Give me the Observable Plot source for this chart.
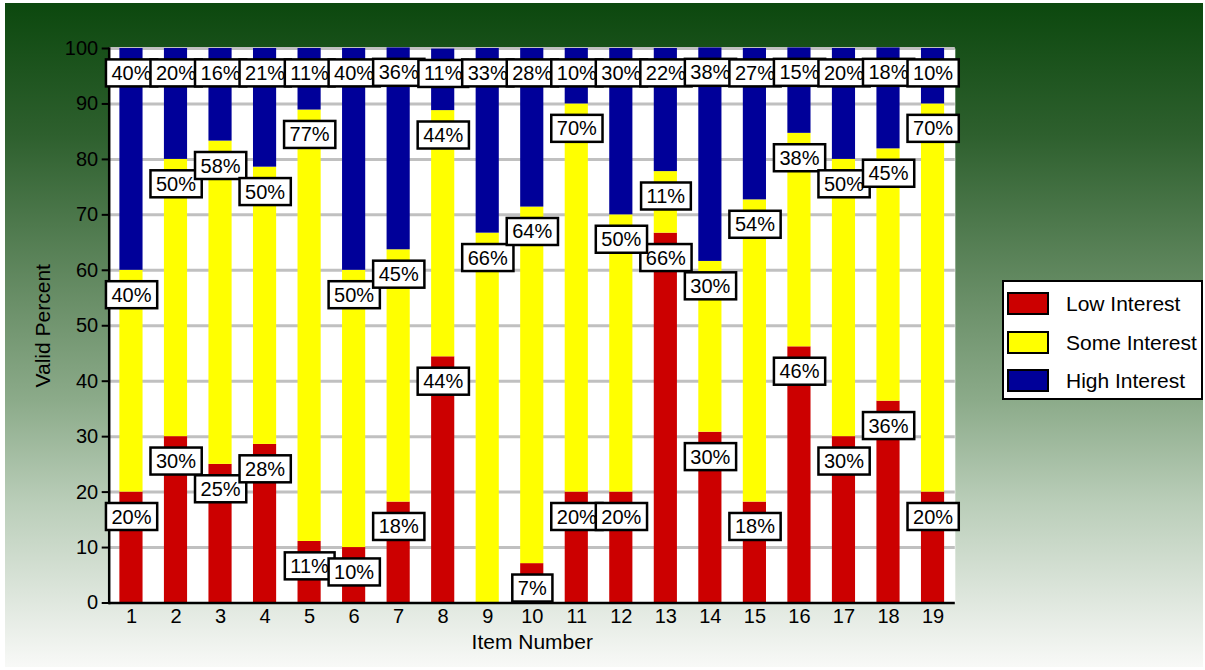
<!DOCTYPE html>
<html><head><meta charset="utf-8">
<script src="https://cdn.jsdelivr.net/npm/d3@7"></script>
<script src="https://cdn.jsdelivr.net/npm/@observablehq/plot@0.6"></script>
<style>
html,body{margin:0;padding:0;background:#fff;}
#wrap{position:relative;width:1205px;height:670px;overflow:hidden;font-family:"Liberation Sans",Arial,sans-serif;}
#bg{position:absolute;left:5px;top:3px;width:1198px;height:664px;
 background:linear-gradient(to bottom,#0c480e 0%,#2e602e 20%,#6a8f68 45%,#8cab8a 60%,#b9cdb8 75%,#dfe7de 90%,#f8f9f7 100%);}
#chart{position:absolute;left:0;top:0;}
#legend{position:absolute;left:1002px;top:280px;width:197px;height:116px;background:#fff;border:2px solid #000;}
#legend .sw{position:absolute;left:3px;width:38px;height:19px;border:2px solid #000;}
#legend .lb{position:absolute;left:62px;font-size:21px;line-height:23px;color:#000;white-space:nowrap;}
</style>
</head><body>
<div id="wrap"><div id="bg"></div><div id="chart"></div><div id="legend"></div></div>
<script>
const items = [1,2,3,4,5,6,7,8,9,10,11,12,13,14,15,16,17,18,19];
const categories = ["Low Interest","Some Interest","High Interest"];
const colors = ["#cc0000","#ffff00","#000099"];
const lowInterest  = [20,30,25,28.6,11.1,10,18.2,44.4,0,7.1,20,20,66.7,30.8,18.2,46.2,30,36.4,20];
const someInterest = [40,50,58.3,50,77.8,50,45.5,44.4,66.7,64.3,70,50,11.1,30.8,54.5,38.5,50,45.5,70];
const highInterest = [40,20,16.7,21.4,11.1,40,36.4,11.1,33.3,28.6,10,30,22.2,38.5,27.3,15.4,20,18.2,10];
const yTicks = [0,10,20,30,40,50,60,70,80,90,100];

const series = [lowInterest, someInterest, highInterest];
const data = [];
categories.forEach((c, ci) => items.forEach((it, i) => data.push({item: it, cat: c, value: series[ci][i]})));

const chart = Plot.plot({
  width: 1205, height: 670,
  marginLeft: 108.7, marginRight: 250.2, marginTop: 48, marginBottom: 67.5,
  style: {background: "transparent", fontFamily: "'Liberation Sans', Arial, sans-serif", fontSize: "20px", color: "#000"},
  x: {domain: items, paddingInner: 0.48, paddingOuter: 0.24, round: false},
  y: {domain: [0, 100]},
  color: {domain: categories, range: colors},
  marks: [
    Plot.frame({fill: "white", stroke: null}),
    Plot.ruleY(yTicks.filter(d => d > 0), {stroke: "#c0c0c0", strokeWidth: 3}),
    Plot.barY(data, {x: "item", y: "value", fill: "cat", order: categories}),
    Plot.frame({anchor: "left", stroke: "#000", strokeWidth: 2.5}),
    Plot.ruleY([0], {stroke: "#000", strokeWidth: 2.5}),
    Plot.axisY({ticks: yTicks, tickSize: 7, tickPadding: 4, strokeWidth: 2, fontSize: 20, label: null}),
    Plot.axisY({ticks: [], tickSize: 0, fontSize: 21,
      label: "Valid Percent", labelAnchor: "center", labelArrow: "none", labelOffset: 74}),
    Plot.axisX({tickSize: 0, tickPadding: 6, fontSize: 20, label: null}),
    Plot.axisX({ticks: [], tickSize: 0, fontSize: 21,
      label: "Item Number", labelAnchor: "center", labelArrow: "none", labelOffset: 46}),
    Plot.text(data.filter(d => d.value > 0), Plot.stackY2({
      x: "item", y: "value", z: "cat", order: categories,
      text: d => Math.floor(d.value) + "%", dy: 25, fontSize: 20, fill: "#000",
      className: "vlabel"}))
  ]
});
document.getElementById("chart").appendChild(chart);

// white boxes behind value labels
document.querySelectorAll(".vlabel text").forEach(t => {
  const bb = t.getBBox();
  const r = document.createElementNS("http://www.w3.org/2000/svg", "rect");
  r.setAttribute("x", bb.x - 5.5);
  r.setAttribute("y", bb.y - 2.5);
  r.setAttribute("width", bb.width + 11);
  r.setAttribute("height", bb.height + 5);
  r.setAttribute("fill", "#fff");
  r.setAttribute("stroke", "#000");
  r.setAttribute("stroke-width", 2.5);
  const tr = t.getAttribute("transform");
  if (tr) r.setAttribute("transform", tr);
  t.parentNode.insertBefore(r, t);
});

// legend
const lg = document.getElementById("legend");
const swTops = [10, 49, 87];
categories.forEach((c, i) => {
  const sw = document.createElement("div");
  sw.className = "sw"; sw.style.top = swTops[i] + "px"; sw.style.background = colors[i];
  lg.appendChild(sw);
  const lb = document.createElement("div");
  lb.className = "lb"; lb.style.top = swTops[i] + "px"; lb.textContent = c;
  lg.appendChild(lb);
});
</script>
</body></html>
